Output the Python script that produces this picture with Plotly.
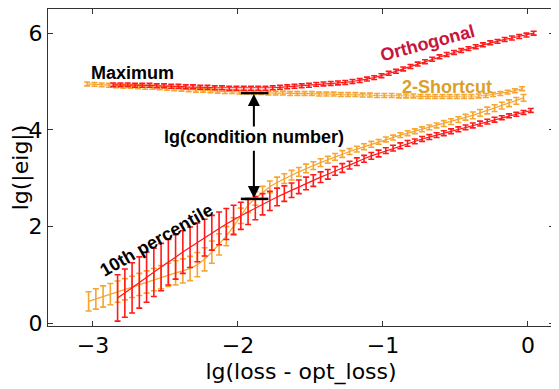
import plotly.graph_objects as go

# ---------------- data ----------------
# Orthogonal (red) – maximum eigenvalue
orth_max_x = [-2.86, -2.81, -2.76, -2.71, -2.66, -2.61, -2.56, -2.51, -2.46, -2.41,
              -2.36, -2.31, -2.26, -2.21, -2.16, -2.11, -2.06, -2.01, -1.96, -1.91,
              -1.86, -1.81, -1.76, -1.71, -1.66, -1.61, -1.56, -1.51, -1.46, -1.41,
              -1.36, -1.31, -1.26, -1.21, -1.16, -1.11, -1.06, -1.01, -0.96, -0.91,
              -0.86, -0.81, -0.76, -0.71, -0.66, -0.61, -0.56, -0.51, -0.46, -0.41,
              -0.36, -0.31, -0.26, -0.21, -0.16, -0.11, -0.06, -0.01, 0.04]
orth_max_y = [4.93, 4.93, 4.93, 4.92, 4.92, 4.92, 4.91, 4.91, 4.90, 4.90,
              4.89, 4.89, 4.88, 4.88, 4.87, 4.87, 4.86, 4.86, 4.86, 4.86,
              4.86, 4.86, 4.87, 4.88, 4.89, 4.90, 4.91, 4.92, 4.94, 4.95,
              4.96, 4.97, 4.98, 5.00, 5.02, 5.05, 5.08, 5.12, 5.17, 5.21,
              5.26, 5.31, 5.36, 5.41, 5.46, 5.51, 5.56, 5.60, 5.64, 5.68,
              5.72, 5.76, 5.80, 5.83, 5.87, 5.90, 5.93, 5.96, 6.00]
orth_max_err = [0.04] * len(orth_max_x)

# Orthogonal (red) – 10th percentile eigenvalue
orth_p10_x = [-2.83, -2.78, -2.73, -2.68, -2.63, -2.58, -2.53, -2.48, -2.43, -2.38,
              -2.33, -2.28, -2.23, -2.18, -2.13, -2.08, -2.03, -1.98, -1.93, -1.88,
              -1.83, -1.78, -1.73, -1.68, -1.63, -1.58, -1.53, -1.48, -1.43, -1.38,
              -1.33, -1.28, -1.23, -1.18, -1.13, -1.08, -1.03, -0.98, -0.93, -0.88,
              -0.83, -0.78, -0.73, -0.68, -0.63, -0.58, -0.53, -0.48, -0.43, -0.38,
              -0.33, -0.28, -0.23, -0.18, -0.13, -0.08, -0.03, 0.02]
orth_p10_y = [0.52, 0.62, 0.73, 0.84, 0.95, 1.05, 1.16, 1.26, 1.37, 1.47,
              1.57, 1.67, 1.77, 1.87, 1.96, 2.05, 2.14, 2.22, 2.30, 2.38,
              2.46, 2.53, 2.61, 2.68, 2.75, 2.82, 2.89, 2.95, 3.02, 3.08,
              3.15, 3.21, 3.27, 3.34, 3.40, 3.46, 3.51, 3.57, 3.62, 3.67,
              3.72, 3.76, 3.81, 3.85, 3.89, 3.93, 3.97, 4.01, 4.05, 4.09,
              4.13, 4.17, 4.21, 4.25, 4.29, 4.32, 4.36, 4.40]
orth_p10_err = [0.48, 0.50, 0.52, 0.53, 0.52, 0.50, 0.49, 0.47, 0.46, 0.44,
                0.42, 0.40, 0.38, 0.36, 0.34, 0.32, 0.30, 0.28, 0.26, 0.24,
                0.22, 0.20, 0.18, 0.16, 0.15, 0.14, 0.13, 0.12, 0.11, 0.10,
                0.09, 0.09, 0.08, 0.08, 0.07, 0.07, 0.07, 0.06, 0.06, 0.06,
                0.06, 0.05, 0.05, 0.05, 0.05, 0.05, 0.05, 0.05, 0.05, 0.05,
                0.05, 0.05, 0.05, 0.04, 0.04, 0.04, 0.04, 0.04]

# 2-Shortcut (orange) – maximum eigenvalue
short_max_x = [-3.04, -2.99, -2.94, -2.89, -2.84, -2.79, -2.74, -2.69, -2.64, -2.59,
               -2.54, -2.49, -2.44, -2.39, -2.34, -2.29, -2.24, -2.19, -2.14, -2.09,
               -2.04, -1.99, -1.94, -1.89, -1.84, -1.79, -1.74, -1.69, -1.64, -1.59,
               -1.54, -1.49, -1.44, -1.39, -1.34, -1.29, -1.24, -1.19, -1.14, -1.09,
               -1.04, -0.99, -0.94, -0.89, -0.84, -0.79, -0.74, -0.69, -0.64, -0.59,
               -0.54, -0.49, -0.44, -0.39, -0.34, -0.29, -0.24, -0.19, -0.14, -0.09,
               -0.04]
short_max_y = [4.95, 4.94, 4.93, 4.92, 4.91, 4.90, 4.90, 4.89, 4.88, 4.88,
               4.87, 4.86, 4.85, 4.84, 4.83, 4.82, 4.82, 4.81, 4.80, 4.79,
               4.79, 4.78, 4.78, 4.77, 4.77, 4.76, 4.76, 4.76, 4.75, 4.75,
               4.75, 4.75, 4.74, 4.74, 4.74, 4.73, 4.73, 4.73, 4.72, 4.72,
               4.71, 4.71, 4.71, 4.70, 4.70, 4.70, 4.69, 4.69, 4.69, 4.69,
               4.69, 4.69, 4.69, 4.69, 4.70, 4.71, 4.73, 4.75, 4.78, 4.81,
               4.85]
short_max_err = [0.04] * len(short_max_x)

# 2-Shortcut (orange) – 10th percentile eigenvalue
short_p10_x = [-3.03, -2.98, -2.93, -2.88, -2.83, -2.78, -2.73, -2.68, -2.63, -2.58,
               -2.53, -2.48, -2.43, -2.38, -2.33, -2.28, -2.23, -2.18, -2.13, -2.08,
               -2.03, -1.98, -1.93, -1.88, -1.83, -1.78, -1.73, -1.68, -1.63, -1.58,
               -1.53, -1.48, -1.43, -1.38, -1.33, -1.28, -1.23, -1.18, -1.13, -1.08,
               -1.03, -0.98, -0.93, -0.88, -0.83, -0.78, -0.73, -0.68, -0.63, -0.58,
               -0.53, -0.48, -0.43, -0.38, -0.33, -0.28, -0.23, -0.18, -0.13, -0.08,
               -0.03]
short_p10_y = [0.45, 0.50, 0.55, 0.60, 0.65, 0.70, 0.75, 0.80, 0.85, 0.90,
               0.95, 1.00, 1.04, 1.08, 1.13, 1.21, 1.32, 1.47, 1.63, 1.80,
               2.00, 2.22, 2.44, 2.58, 2.70, 2.82, 2.91, 2.99, 3.06, 3.13,
               3.20, 3.26, 3.32, 3.38, 3.44, 3.50, 3.55, 3.60, 3.65, 3.70,
               3.75, 3.80, 3.84, 3.89, 3.93, 3.97, 4.01, 4.05, 4.09, 4.13,
               4.17, 4.21, 4.26, 4.30, 4.35, 4.40, 4.45, 4.50, 4.55, 4.60,
               4.66]
short_p10_err = [0.20, 0.21, 0.22, 0.22, 0.22, 0.22, 0.22, 0.23, 0.23, 0.23,
                 0.24, 0.24, 0.25, 0.25, 0.25, 0.25, 0.24, 0.23, 0.22, 0.20,
                 0.18, 0.16, 0.15, 0.14, 0.13, 0.12, 0.11, 0.10, 0.10, 0.09,
                 0.09, 0.08, 0.08, 0.07, 0.07, 0.07, 0.06, 0.06, 0.06, 0.06,
                 0.05, 0.05, 0.05, 0.05, 0.05, 0.05, 0.05, 0.05, 0.05, 0.06,
                 0.06, 0.06, 0.06, 0.07, 0.07, 0.07, 0.07, 0.07, 0.07, 0.07,
                 0.07]

# condition-number marker (2-Shortcut at lg(loss-opt_loss) ~ -1.89)
cond_x = -1.89
cond_x_span = [-1.98, -1.79]
cond_top = 4.76
cond_bottom = 2.57
cond_label_y = 3.86

x_ticks = [-3, -2, -1, 0]
y_ticks = [0, 2, 4, 6]

RED = "#ff1a1a"
ORANGE = "#f6a530"

fig = go.Figure()


def add_series(xs, ys, errs, color):
    fig.add_trace(go.Scatter(
        x=xs, y=ys, mode="lines",
        line=dict(color=color, width=1.2),
        error_y=dict(type="data", array=errs, visible=True,
                     color=color, thickness=1.6, width=3),
        showlegend=False, hoverinfo="skip"))


add_series(short_p10_x, short_p10_y, short_p10_err, ORANGE)
add_series(orth_p10_x, orth_p10_y, orth_p10_err, RED)
add_series(short_max_x, short_max_y, short_max_err, ORANGE)
add_series(orth_max_x, orth_max_y, orth_max_err, RED)

# black horizontal markers for the condition number
for yv in (cond_top, cond_bottom):
    fig.add_shape(type="line", xref="x", yref="y",
                  x0=cond_x_span[0], x1=cond_x_span[1], y0=yv, y1=yv,
                  line=dict(color="black", width=2.5))

# arrows
fig.add_annotation(x=cond_x, y=cond_top - 0.02, ax=cond_x, ay=4.04,
                   xref="x", yref="y", axref="x", ayref="y", text="",
                   showarrow=True, arrowhead=2, arrowsize=1.2, arrowwidth=2,
                   arrowcolor="black")
fig.add_annotation(x=cond_x, y=cond_bottom + 0.02, ax=cond_x, ay=3.6,
                   xref="x", yref="y", axref="x", ayref="y", text="",
                   showarrow=True, arrowhead=2, arrowsize=1.2, arrowwidth=2,
                   arrowcolor="black")

LBL = dict(family="Arial, Liberation Sans, sans-serif", size=18, weight="bold")

fig.add_annotation(x=cond_x, y=cond_label_y, text="lg(condition number)",
                   showarrow=False, font=dict(**LBL, color="black"))
fig.add_annotation(x=-2.73, y=5.18, text="Maximum", showarrow=False,
                   font=dict(**LBL, color="black"))
fig.add_annotation(x=-2.56, y=1.72, text="10th percentile", showarrow=False,
                   textangle=-30, font=dict(**LBL, color="black"))
fig.add_annotation(x=-0.69, y=5.80, text="Orthogonal", showarrow=False,
                   textangle=-15, font=dict(**LBL, color="#c8143c"))
fig.add_annotation(x=-0.56, y=4.89, text="2-Shortcut", showarrow=False,
                   font=dict(**LBL, color="#daa02a"))

AX_FONT = dict(family="DejaVu Sans, sans-serif", size=22, color="black")

fig.update_xaxes(range=[-3.31, 0.18], tickvals=x_ticks, ticks="inside",
                 ticklen=5, tickcolor="#333", showline=True, linecolor="#333",
                 linewidth=1, mirror="ticks", showgrid=False, zeroline=False,
                 tickfont=AX_FONT, automargin=False,
                 title=dict(text="lg(loss - opt_loss)", font=AX_FONT, standoff=6))
fig.update_yaxes(range=[-0.06, 6.5], tickvals=y_ticks, ticks="inside",
                 ticklen=5, tickcolor="#333", showline=True, linecolor="#333",
                 linewidth=1, mirror="ticks", showgrid=False, zeroline=False,
                 tickfont=AX_FONT, automargin=False,
                 title=dict(text="lg(|eig|)", font=AX_FONT, standoff=4))

# the page body adds an 8 px offset, so the figure is sized to fit the window
fig.update_layout(width=551, height=381, plot_bgcolor="white",
                  paper_bgcolor="white",
                  margin=dict(l=40, r=5, t=1, b=63))

fig.write_html("out.html")
